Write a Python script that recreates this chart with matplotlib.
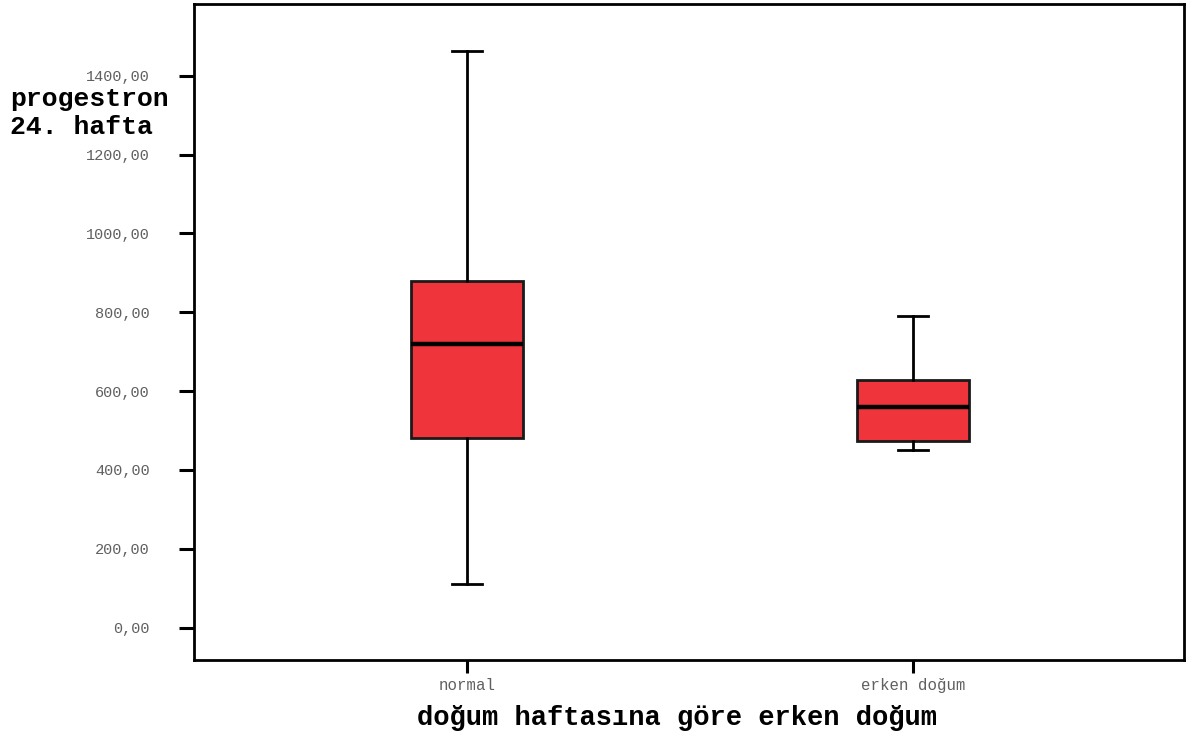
import matplotlib
matplotlib.use("Agg")
import matplotlib.pyplot as plt

# Box-plot summary statistics (progesterone at week 24) per delivery group
categories = ["normal", "erken doğum"]
whisker_low = [110, 451]
q1 = [480, 474]
median = [720, 560]
q3 = [879, 628]
whisker_high = [1462, 791]

y_ticks = [0, 200, 400, 600, 800, 1000, 1200, 1400]
y_tick_labels = ["0,00", "200,00", "400,00", "600,00", "800,00",
                 "1000,00", "1200,00", "1400,00"]

FONT = "Liberation Mono"
BOX_COLOR = "#F0343B"

fig = plt.figure(figsize=(11.93, 7.39), dpi=100)
ax = fig.add_axes([194 / 1193, 1 - 660 / 739, 990 / 1193, 656 / 739])

stats = []
for i, name in enumerate(categories):
    stats.append({
        "label": name,
        "whislo": whisker_low[i],
        "q1": q1[i],
        "med": median[i],
        "q3": q3[i],
        "whishi": whisker_high[i],
        "fliers": [],
    })

positions = list(range(1, len(categories) + 1))
ax.bxp(
    stats,
    positions=positions,
    widths=0.251,
    patch_artist=True,
    showfliers=False,
    boxprops=dict(facecolor=BOX_COLOR, edgecolor="#1a1a1a", linewidth=2),
    medianprops=dict(color="black", linewidth=3.2),
    whiskerprops=dict(color="black", linewidth=2),
    capprops=dict(color="black", linewidth=2),
    capwidths=0.067,
)

ax.set_xlim(0.388, 2.608)
ax.set_ylim(-82, 1582)

ax.set_yticks(y_ticks)
ax.set_yticklabels(y_tick_labels)
ax.set_xticks(positions)
ax.set_xticklabels(categories)

for spine in ax.spines.values():
    spine.set_linewidth(2)
    spine.set_color("black")

ax.tick_params(axis="y", length=11, width=2.2, pad=21, labelsize=11,
               labelcolor="#606060", color="black")
ax.tick_params(axis="x", length=9, width=2.2, pad=4, labelsize=11.3,
               labelcolor="#606060", color="black")
for lbl in ax.get_xticklabels() + ax.get_yticklabels():
    lbl.set_fontfamily(FONT)

fig.text(10 / 1193, 1 - 113 / 739, "progestron\n24. hafta",
         fontfamily=FONT, fontweight="bold", fontsize=19,
         ha="left", va="center", linespacing=1.25)

fig.text(677 / 1193, 1 - 718 / 739, "doğum haftasına göre erken doğum",
         fontfamily=FONT, fontweight="bold", fontsize=19.5,
         ha="center", va="center")

fig.savefig("out.png", dpi=100)
